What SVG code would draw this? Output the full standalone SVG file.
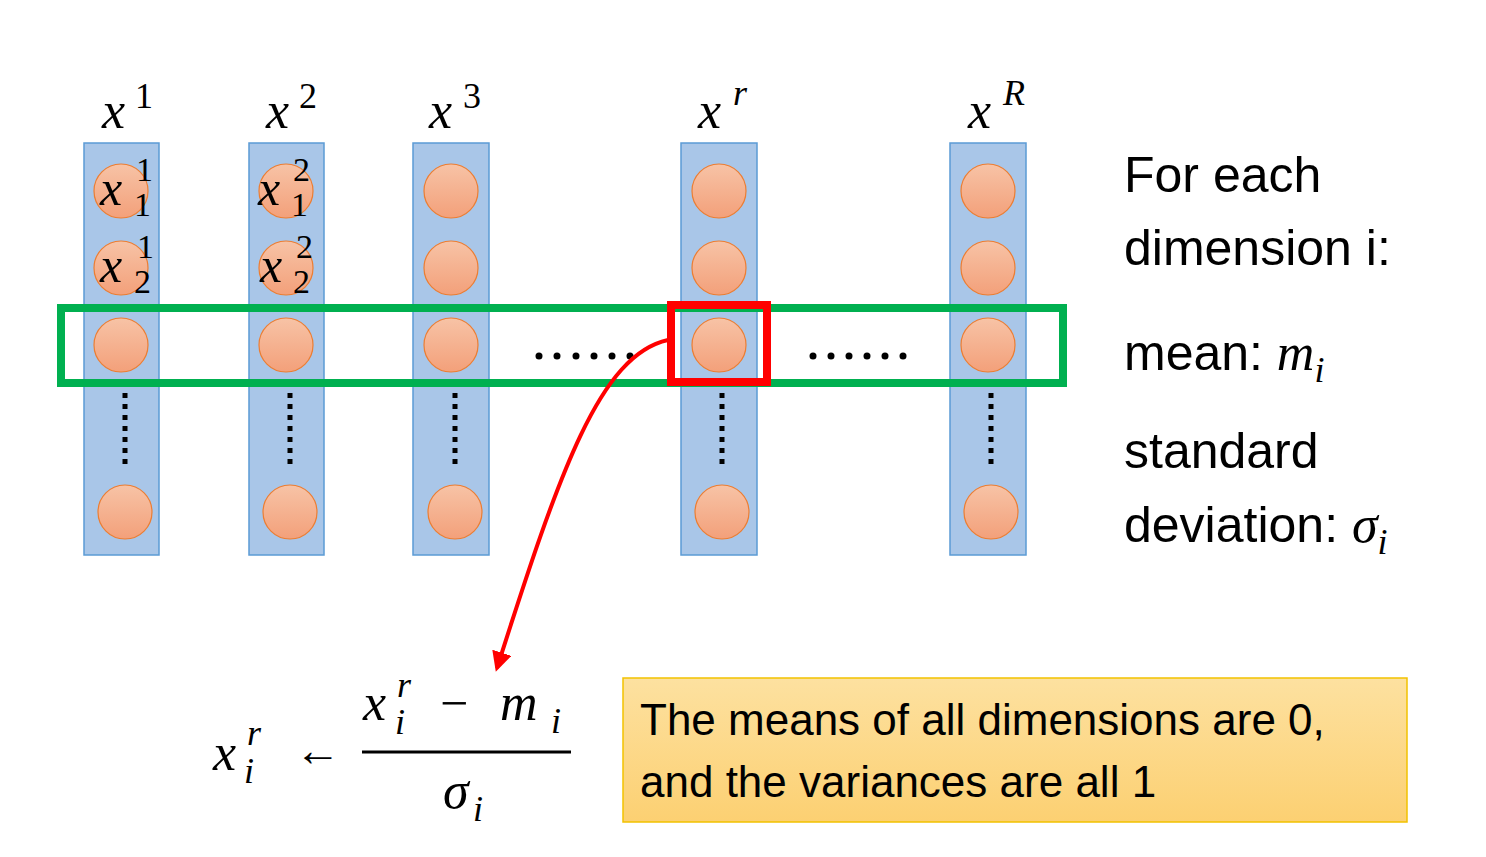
<svg xmlns="http://www.w3.org/2000/svg" width="1486" height="857" viewBox="0 0 1486 857">
<style>
.col{fill:#a9c6e8;stroke:#5b9bd5;stroke-width:1.5}
.c{fill:url(#og);stroke:#ed7d31;stroke-width:1.2}
.m{font-family:"Liberation Serif",serif;font-style:italic;fill:#000}
.mu{font-family:"Liberation Serif",serif;fill:#000}
.t{font-family:"Liberation Sans",sans-serif;fill:#000}
.vd{stroke:#000;stroke-width:5;stroke-dasharray:5 6;stroke-linecap:butt}
</style>
<defs>
<linearGradient id="og" x1="0" y1="0" x2="0" y2="1"><stop offset="0" stop-color="#f7c3a6"/><stop offset="1" stop-color="#f3a07a"/></linearGradient>
<linearGradient id="yg" x1="0" y1="0" x2="0" y2="1"><stop offset="0" stop-color="#fde1a0"/><stop offset="1" stop-color="#fcd072"/></linearGradient>
<marker id="ah" viewBox="0 0 10 10" refX="8" refY="5" markerWidth="5" markerHeight="5" orient="auto"><path d="M0,0 L10,5 L0,10 z" fill="#ff0000"/></marker>
</defs>
<rect width="1486" height="857" fill="#fff"/>
<g id="col1"><rect class="col" x="84" y="143" width="75" height="412"/>
<circle class="c" cx="121" cy="191" r="27"/><circle class="c" cx="121" cy="268" r="27"/><circle class="c" cx="121" cy="345" r="27"/><circle class="c" cx="125" cy="512" r="27"/>
<line class="vd" x1="125" y1="393" x2="125" y2="468"/>
<text class="m" x="102" y="128" font-size="52">x</text><text class="mu" x="135" y="108" font-size="36">1</text>
<text class="m" x="100" y="205" font-size="50">x</text><text class="mu" x="136" y="181" font-size="34">1</text><text class="mu" x="134" y="216" font-size="34">1</text>
<text class="m" x="100" y="282" font-size="50">x</text><text class="mu" x="137" y="258" font-size="34">1</text><text class="mu" x="134" y="293" font-size="34">2</text>
</g>
<g id="col2"><rect class="col" x="249" y="143" width="75" height="412"/>
<circle class="c" cx="286" cy="191" r="27"/><circle class="c" cx="286" cy="268" r="27"/><circle class="c" cx="286" cy="345" r="27"/><circle class="c" cx="290" cy="512" r="27"/>
<line class="vd" x1="290" y1="393" x2="290" y2="468"/>
<text class="m" x="266" y="128" font-size="52">x</text><text class="mu" x="299" y="108" font-size="36">2</text>
<text class="m" x="258" y="205" font-size="50">x</text><text class="mu" x="293" y="181" font-size="34">2</text><text class="mu" x="291" y="216" font-size="34">1</text>
<text class="m" x="260" y="282" font-size="50">x</text><text class="mu" x="296" y="258" font-size="34">2</text><text class="mu" x="293" y="293" font-size="34">2</text>
</g>
<g id="col3"><rect class="col" x="413" y="143" width="76" height="412"/>
<circle class="c" cx="451" cy="191" r="27"/><circle class="c" cx="451" cy="268" r="27"/><circle class="c" cx="451" cy="345" r="27"/><circle class="c" cx="455" cy="512" r="27"/>
<line class="vd" x1="455" y1="393" x2="455" y2="468"/>
<text class="m" x="429" y="128" font-size="52">x</text><text class="mu" x="463" y="108" font-size="36">3</text>
</g>
<g id="colr"><rect class="col" x="681" y="143" width="76" height="412"/>
<circle class="c" cx="719" cy="191" r="27"/><circle class="c" cx="719" cy="268" r="27"/><circle class="c" cx="719" cy="345" r="27"/><circle class="c" cx="722" cy="512" r="27"/>
<line class="vd" x1="722" y1="393" x2="722" y2="468"/>
<text class="m" x="698" y="128" font-size="52">x</text><text class="m" x="733" y="105" font-size="36">r</text>
</g>
<g id="colR"><rect class="col" x="950" y="143" width="76" height="412"/>
<circle class="c" cx="988" cy="191" r="27"/><circle class="c" cx="988" cy="268" r="27"/><circle class="c" cx="988" cy="345" r="27"/><circle class="c" cx="991" cy="512" r="27"/>
<line class="vd" x1="991" y1="393" x2="991" y2="468"/>
<text class="m" x="968" y="128" font-size="52">x</text><text class="m" x="1003" y="105" font-size="36">R</text>
</g>
<g id="hdots" fill="#000">
<circle cx="539" cy="356" r="3.5"/><circle cx="557" cy="356" r="3.5"/><circle cx="576" cy="356" r="3.5"/><circle cx="594" cy="356" r="3.5"/><circle cx="612" cy="356" r="3.5"/><circle cx="630" cy="356" r="3.5"/>
<circle cx="813" cy="356" r="3.5"/><circle cx="831" cy="356" r="3.5"/><circle cx="849" cy="356" r="3.5"/><circle cx="867" cy="356" r="3.5"/><circle cx="885" cy="356" r="3.5"/><circle cx="903" cy="356" r="3.5"/>
</g>
<g id="green"><rect x="61" y="308" width="1002" height="75" fill="none" stroke="#00b050" stroke-width="8"/></g>
<g id="red"><rect x="671" y="305" width="96" height="77" fill="none" stroke="#ff0000" stroke-width="8"/></g>
<g id="connectors"><path d="M668,340 C600,355 560,470 497,668" fill="none" stroke="#ff0000" stroke-width="4" marker-end="url(#ah)"/></g>
<g id="info">
<text class="t" x="1124" y="192" font-size="50">For each</text>
<text class="t" x="1124" y="265" font-size="50">dimension i:</text>
<text class="t" x="1124" y="370" font-size="50">mean: <tspan class="m" font-size="52">m</tspan><tspan class="m" font-size="36" dy="12">i</tspan></text>
<text class="t" x="1124" y="468" font-size="50">standard</text>
<text class="t" x="1124" y="542" font-size="50">deviation: <tspan class="m" font-size="52">σ</tspan><tspan class="m" font-size="36" dy="12">i</tspan></text>
</g>
<g id="formula">
<text class="m" x="213" y="770" font-size="52">x</text><text class="m" x="247" y="745" font-size="36">r</text><text class="m" x="244" y="783" font-size="36">i</text>
<text class="mu" x="295" y="766" font-size="46">←</text>
<text class="m" x="363" y="720" font-size="52">x</text><text class="m" x="397" y="697" font-size="36">r</text><text class="m" x="395" y="734" font-size="36">i</text>
<text class="mu" x="440" y="720" font-size="50">−</text>
<text class="m" x="500" y="720" font-size="52">m</text><text class="m" x="551" y="733" font-size="36">i</text>
<line x1="362" y1="752" x2="571" y2="752" stroke="#000" stroke-width="3"/>
<text class="m" x="443" y="808" font-size="52">σ</text><text class="m" x="473" y="821" font-size="36">i</text>
</g>
<g id="note"><rect x="623" y="678" width="784" height="144" fill="url(#yg)" stroke="#f2c200" stroke-width="1.5"/>
<text class="t" x="640" y="735" font-size="44">The means of all dimensions are 0,</text>
<text class="t" x="640" y="797" font-size="44">and the variances are all 1</text></g>
</svg>
